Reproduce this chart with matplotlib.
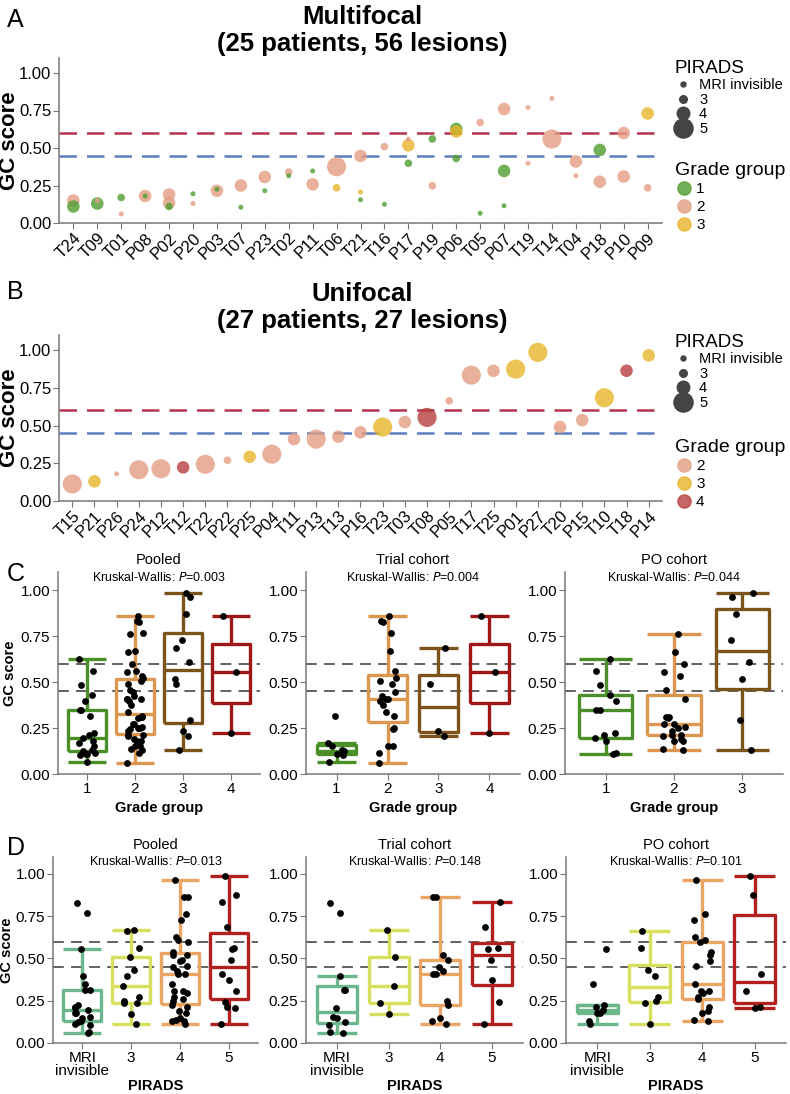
import numpy as np
import matplotlib
matplotlib.use('Agg')
import matplotlib.pyplot as plt
from matplotlib.lines import Line2D

plt.rcParams['font.family'] = ['Liberation Sans', 'DejaVu Sans']

# multifocal lesions (panel A), pirads 0 = MRI invisible
multiOrder = ['T24','T09','T01','P08','P02','P20','P03','T07','P23','T02','P11','T06','T21',
              'T16','P17','P19','P06','T05','P07','T19','T14','T04','P18','P10','P09']
multiRed = ['T04','P18','P10','P09']
multiPatient = ['T24','T24','T09','T09','T01','T01','P08','P08','P02','P02','P02','P20','P20',
                'P03','P03','T07','T07','P23','P23','T02','T02','P11','P11','T06','T06',
                'T21','T21','T21','T16','T16','P17','P17','P17','P19','P19','P06','P06','P06',
                'T05','T05','P07','P07','P07','T19','T19','T14','T14','T04','T04','P18','P18',
                'P10','P10','P09','P09']
multiScore = [0.15,0.11,0.13,0.15,0.17,0.06,0.18,0.18,0.19,0.135,0.11,0.195,0.13,
              0.215,0.225,0.25,0.105,0.307,0.215,0.34,0.315,0.258,0.347,0.375,0.235,
              0.447,0.207,0.155,0.509,0.125,0.518,0.558,0.398,0.56,0.248,0.627,0.61,0.43,
              0.67,0.065,0.76,0.347,0.115,0.77,0.398,0.56,0.83,0.41,0.315,0.487,0.275,
              0.60,0.31,0.73,0.235]
multiGrade = [2,1,1,2,1,2,2,1,2,2,1,1,2,
              2,1,2,1,2,1,2,1,2,1,2,3,
              2,3,1,2,1,3,2,1,1,2,1,3,1,
              2,1,2,1,1,2,2,2,2,2,2,1,2,
              2,2,3,2]
multiPirads = [4,4,4,0,3,0,4,0,4,4,3,0,0,
               4,0,4,0,4,0,3,0,4,0,5,3,
               4,0,0,3,0,4,0,3,3,3,4,4,3,
               3,0,4,4,0,0,0,5,0,4,0,4,4,
               4,4,4,3]

# unifocal lesions (panel B)
uniPatient = ['T15','P21','P26','P24','P12','T12','T22','P22','P25','P04','T11','P13','T13','P16',
              'T23','T03','T08','P05','T17','T25','P01','P27','T20','P15','T10','T18','P14']
uniRed = ['T20','P15','T10','T18','P14']
uniScore = [0.113,0.13,0.18,0.207,0.214,0.223,0.243,0.27,0.293,0.31,0.41,0.41,0.426,0.455,
            0.49,0.523,0.554,0.664,0.834,0.863,0.874,0.985,0.49,0.536,0.684,0.863,0.965]
uniGrade = [2,3,2,2,2,4,2,2,3,2,2,2,2,2,3,2,4,2,2,2,3,3,2,2,3,4,3]
uniPirads = [5,4,0,5,5,4,5,3,4,5,4,5,4,4,5,4,5,3,5,4,5,5,4,4,5,4,4]

gradeColors = {1:'#4f9c30', 2:'#e49e84', 3:'#e8b42a', 4:'#b83f3f'}
piradsSizes = {0:13, 3:30, 4:82, 5:190}
piradsNames = {0:'MRI invisible', 3:'3', 4:'4', 5:'5'}

boxGradeColors = {1:'#4a8f27', 2:'#dc9650', 3:'#7b531b', 4:'#a01616'}
boxPiradsColors = {0:'#6cb68c', 3:'#d8df5c', 4:'#eaa564', 5:'#b21f1f'}

W, H = 790, 1094
fig = plt.figure(figsize=(W/100, H/100), dpi=100)

def axRect(l, r, t, b):
    return [l/W, 1-b/H, (r-l)/W, (b-t)/H]

def styleSpines(ax):
    for s in ['top','right']:
        ax.spines[s].set_visible(False)
    for s in ['left','bottom']:
        ax.spines[s].set_color('#777777')
        ax.spines[s].set_linewidth(1.1)
    ax.tick_params(colors='#777777', labelcolor='black', length=4, pad=1.5)

def lesionPanel(ax, rect, order, red, patient, score, grade, pirads, legendGrades, legendY):
    xPos = [order.index(p) for p in patient]
    ax.axhline(0.6, color='#b5344e', lw=1.8, dashes=(7,4), zorder=1)
    ax.axhline(0.45, color='#5a7ec0', lw=1.8, dashes=(7,4), zorder=1)
    idx = sorted(range(len(score)), key=lambda i: -piradsSizes[pirads[i]])
    ax.scatter([xPos[i] for i in idx], [score[i] for i in idx],
               s=[piradsSizes[pirads[i]] for i in idx],
               c=[gradeColors[grade[i]] for i in idx], alpha=0.8, lw=0, zorder=2)
    ax.set_xlim(-0.6, len(order)-0.4)
    ax.set_ylim(0, 1.1)
    ax.set_yticks([0, 0.25, 0.5, 0.75, 1.0])
    ax.set_yticklabels(['0.00','0.25','0.50','0.75','1.00'], fontsize=12)
    ax.set_xticks(range(len(order)))
    ax.set_xticklabels(order, rotation=45, ha='right', rotation_mode='anchor', fontsize=12)
    for lab in ax.get_xticklabels():
        if lab.get_text() in red: lab.set_color('#e8141b')
    ax.set_ylabel('GC score', fontsize=16, fontweight='bold')
    ax.yaxis.set_label_coords((20-rect[0])/(rect[1]-rect[0]), 0.5)
    styleSpines(ax)
    # legends
    pHandles = [Line2D([], [], ls='', marker='o', color='#444444', markersize=np.sqrt(piradsSizes[k]))
                for k in [0,3,4,5]]
    leg1 = ax.legend(pHandles, [piradsNames[k] for k in [0,3,4,5]], title='PIRADS',
                     loc='upper left', bbox_to_anchor=(667/W, 1-legendY[0]/H), bbox_transform=fig.transFigure,
                     frameon=False, fontsize=10.5, title_fontsize=13.5, alignment='left',
                     handletextpad=0.5, labelspacing=0.05, borderpad=0, handlelength=1.2)
    ax.add_artist(leg1)
    gHandles = [Line2D([], [], ls='', marker='o', color=gradeColors[g], alpha=0.8, markersize=9.5)
                for g in legendGrades]
    ax.legend(gHandles, [str(g) for g in legendGrades], title='Grade group',
              loc='upper left', bbox_to_anchor=(667/W, 1-legendY[1]/H), bbox_transform=fig.transFigure,
              frameon=False, fontsize=11, title_fontsize=14, alignment='left',
              handletextpad=0.2, labelspacing=0.25, borderpad=0, handlelength=1.2)

def jitter(n):
    return 0.16*np.sin(np.arange(n)*2.39996)

def boxPanel(ax, rect, groups, colors, tickLabels, title, pText, xlabel, xlabelY, ylabel):
    ax.axhline(0.6, color='#555555', lw=1.3, dashes=(6,4), zorder=1)
    ax.axhline(0.45, color='#555555', lw=1.3, dashes=(6,4), zorder=1)
    bp = ax.boxplot(groups, positions=range(len(groups)), widths=0.78, capwidths=0.78,
                    showfliers=False, whis=1.5, zorder=2)
    for i in range(len(groups)):
        c = colors[i]
        for art in [bp['boxes'][i], bp['medians'][i]] + bp['whiskers'][2*i:2*i+2] + bp['caps'][2*i:2*i+2]:
            art.set_color(c)
            art.set_linewidth(2.4)
            art.set_solid_capstyle('butt')
    for i, g in enumerate(groups):
        ax.scatter(i + jitter(len(g)), g, s=24, color='black', lw=0, zorder=3)
    ax.set_xlim(-0.6, len(groups)-0.4)
    ax.set_ylim(0, 1.1)
    ax.set_yticks([0, 0.25, 0.5, 0.75, 1.0])
    ax.set_yticklabels(['0.00','0.25','0.50','0.75','1.00'], fontsize=11)
    ax.set_xticks(range(len(groups)))
    ax.set_xticklabels(tickLabels, fontsize=11, linespacing=0.95)
    hgt = rect[3] - rect[2]
    ax.text(0.5, (rect[3]-xlabelY)/hgt, xlabel, transform=ax.transAxes, ha='center', va='center',
            fontsize=10.5, fontweight='bold')
    if ylabel:
        ax.set_ylabel('GC score', fontsize=10.5, fontweight='bold')
        ax.yaxis.set_label_coords((ylabel-rect[0])/(rect[1]-rect[0]), 0.5)
    ax.text(0.5, title[1], title[0], transform=ax.transAxes, ha='center', va='center', fontsize=10.5)
    ax.text(0.5, title[2], 'Kruskal-Wallis: $\\it{P}$=' + pText, transform=ax.transAxes,
            ha='center', va='center', fontsize=9)
    styleSpines(ax)

# panel A and B
rectA = (59, 662, 58, 223)
axA = fig.add_axes(axRect(*rectA))
lesionPanel(axA, rectA, multiOrder, multiRed, multiPatient, multiScore, multiGrade, multiPirads,
            [1,2,3], (53, 154))
rectB = (59, 662, 335, 501)
axB = fig.add_axes(axRect(*rectB))
lesionPanel(axB, rectB, uniPatient, uniRed, uniPatient, uniScore, uniGrade, uniPirads,
            [2,3,4], (327, 431))

for lines, base in [(('Multifocal', '(25 patients, 56 lesions)'), 24),
                    (('Unifocal', '(27 patients, 27 lesions)'), 301)]:
    fig.text(362/W, 1-base/H, lines[0], ha='center', va='baseline', fontsize=18.5, fontweight='bold')
    fig.text(362/W, 1-(base+27)/H, lines[1], ha='center', va='baseline', fontsize=18.5, fontweight='bold')
for lab, y in [('A', 8), ('B', 280), ('C', 562), ('D', 836)]:
    fig.text(7/W, 1-y/H, lab, ha='left', va='top', fontsize=18)

# pooled lesions for C and D
allPatient = multiPatient + uniPatient
allScore = multiScore + uniScore
allGrade = multiGrade + uniGrade
allPirads = multiPirads + uniPirads

def groupScores(key, cats, cohort):
    out = []
    for k in cats:
        out.append([s for p, s, v in zip(allPatient, allScore, key)
                    if v == k and (cohort is None or p[0] == cohort)])
    return out

cohorts = [('Pooled', None, '0.003', '0.013'), ('Trial cohort', 'T', '0.004', '0.148'),
           ('PO cohort', 'P', '0.044', '0.101')]
cX = [(58, 260), (306, 520), (565, 783)]
dX = [(53, 258), (306, 523), (566, 786)]
for j, (name, code, pC, pD) in enumerate(cohorts):
    grades = [1,2,3,4] if code != 'P' else [1,2,3]
    rectC = (cX[j][0], cX[j][1], 572, 774)
    axC = fig.add_axes(axRect(*rectC))
    boxPanel(axC, rectC, groupScores(allGrade, grades, code), [boxGradeColors[g] for g in grades],
             [str(g) for g in grades], (name, 1.058, 0.975), pC, 'Grade group', 808,
             17 if j == 0 else None)
    cats = [0,3,4,5]
    rectD = (dX[j][0], dX[j][1], 857, 1043)
    axD = fig.add_axes(axRect(*rectD))
    boxPanel(axD, rectD, groupScores(allPirads, cats, code), [boxPiradsColors[k] for k in cats],
             ['MRI\ninvisible','3','4','5'], (name, 1.066, 0.976), pD, 'PIRADS', 1086,
             14 if j == 0 else None)

fig.savefig('out.png', dpi=100)
